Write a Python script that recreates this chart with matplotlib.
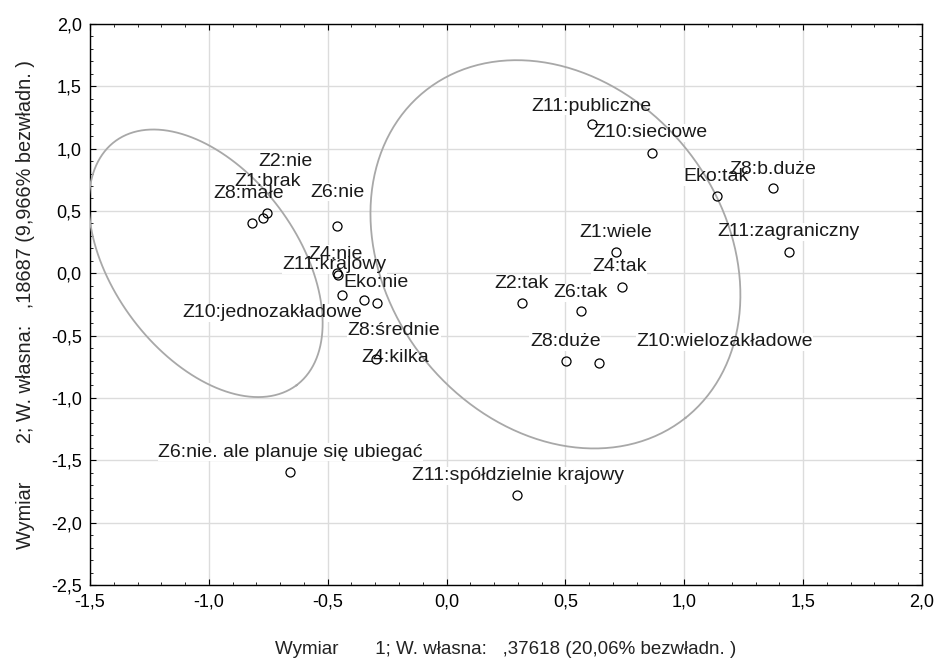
import numpy as np
import matplotlib
matplotlib.use("Agg")
import matplotlib.pyplot as plt
from matplotlib.ticker import MultipleLocator, FuncFormatter

plt.rcParams['font.family'] = ['Liberation Sans', 'DejaVu Sans']

# category labels and coordinates (dim 1, dim 2)
labels = ["Z8:małe", "Z1:brak", "Z2:nie", "Z6:nie", "Z4:nie", "Z11:krajowy",
          "Eko:nie", "Z10:jednozakładowe", "Z8:średnie", "Z4:kilka",
          "Z11:publiczne", "Z10:sieciowe", "Eko:tak", "Z8:b.duże", "Z1:wiele",
          "Z11:zagraniczny", "Z4:tak", "Z2:tak", "Z6:tak", "Z8:duże",
          "Z10:wielozakładowe", "Z6:nie. ale planuje się ubiegać",
          "Z11:spółdzielnie krajowy"]
dim1 = [-0.819, -0.773, -0.756, -0.462, -0.462, -0.458,
        -0.441, -0.349, -0.294, -0.298,
        0.613, 0.866, 1.139, 1.374, 0.714,
        1.441, 0.739, 0.319, 0.567, 0.504,
        0.643, -0.660, 0.298]
dim2 = [0.403, 0.443, 0.484, 0.379, 0.000, -0.010,
        -0.174, -0.214, -0.238, -0.687,
        1.197, 0.965, 0.620, 0.684, 0.171,
        0.171, -0.110, -0.238, -0.302, -0.703,
        -0.719, -1.594, -1.778]

# label offsets in pixels (label centre relative to point)
label_dx = [-3, 5, 19, 1, -1, -3, 34, -91, 17, 20,
            -1, -2, -1, 0, -1, -1, -3, -1, -1, -1, 125, 1, 1]
label_dy = [30, 37, 51, 34, 19, 10, 12, -13, -28, 1,
            18, 20, 19, 18, 19, 20, 20, 19, 18, 19, 21, 20, 19]

# ellipse outlines: centre (data), semi axes (px), angle (deg, px space)
ellipses = [(-1.013, 0.08, 152, 92, 53.4),
            (0.458, 0.152, 209, 168, 51.5)]

fig = plt.figure(figsize=(9.41, 6.64), dpi=100)
ax = fig.add_axes([0.0956, 0.119, 0.8842, 0.845])
ax.set_xlim(-1.5, 2.0)
ax.set_ylim(-2.5, 2.0)

ax.grid(True, which='major', color='#dcdcdc', linewidth=1.0, zorder=0)
ax.set_axisbelow(True)

# pixel scale per data unit
sx = ax.get_position().width * 941 / 3.5
sy = ax.get_position().height * 664 / 4.5
t = np.linspace(0, 2 * np.pi, 300)
for cx, cy, a, b, ang in ellipses:
    th = np.radians(ang)
    ex = a * np.cos(th) * np.cos(t) - b * np.sin(th) * np.sin(t)
    ey = a * np.sin(th) * np.cos(t) + b * np.cos(th) * np.sin(t)
    ax.plot(cx + ex / sx, cy - ey / sy, color='#a8a8a8', linewidth=1.3, zorder=3)

for lab, x, y, dx, dy in zip(labels, dim1, dim2, label_dx, label_dy):
    # white background first, text later so overlapping labels stay readable
    ax.annotate(lab, (x, y), xytext=(dx, dy), textcoords='offset pixels',
                ha='center', va='center', fontsize=14, color='none',
                bbox=dict(boxstyle='square,pad=0.03', fc='white', ec='none'),
                zorder=2)
    ax.annotate(lab, (x, y), xytext=(dx, dy), textcoords='offset pixels',
                ha='center', va='center', fontsize=14, color='#1a1a1a',
                zorder=4)

ax.plot(dim1, dim2, 'o', mfc='none', mec='black', ms=6.5, mew=0.9, zorder=5)

fmt = FuncFormatter(lambda v, p: f"{v:.1f}".replace('.', ','))
ax.xaxis.set_major_locator(MultipleLocator(0.5))
ax.yaxis.set_major_locator(MultipleLocator(0.5))
ax.xaxis.set_minor_locator(MultipleLocator(0.1))
ax.yaxis.set_minor_locator(MultipleLocator(0.1))
ax.xaxis.set_major_formatter(fmt)
ax.yaxis.set_major_formatter(fmt)
ax.tick_params(which='both', direction='in', top=True, right=True)
ax.tick_params(which='major', length=4, labelsize=13, colors='black', pad=6)
ax.tick_params(which='minor', length=2.5)
for s in ax.spines.values():
    s.set_linewidth(1.0)

ax.set_xlabel("Wymiar       1; W. własna:   ,37618 (20,06% bezwładn. )",
              fontsize=13.5, color='#222222', labelpad=22)
ax.set_ylabel("Wymiar       2; W. własna:   ,18687 (9,966% bezwładn. )",
              fontsize=14.3, color='#222222', labelpad=11)

fig.savefig("out.png", dpi=100)
